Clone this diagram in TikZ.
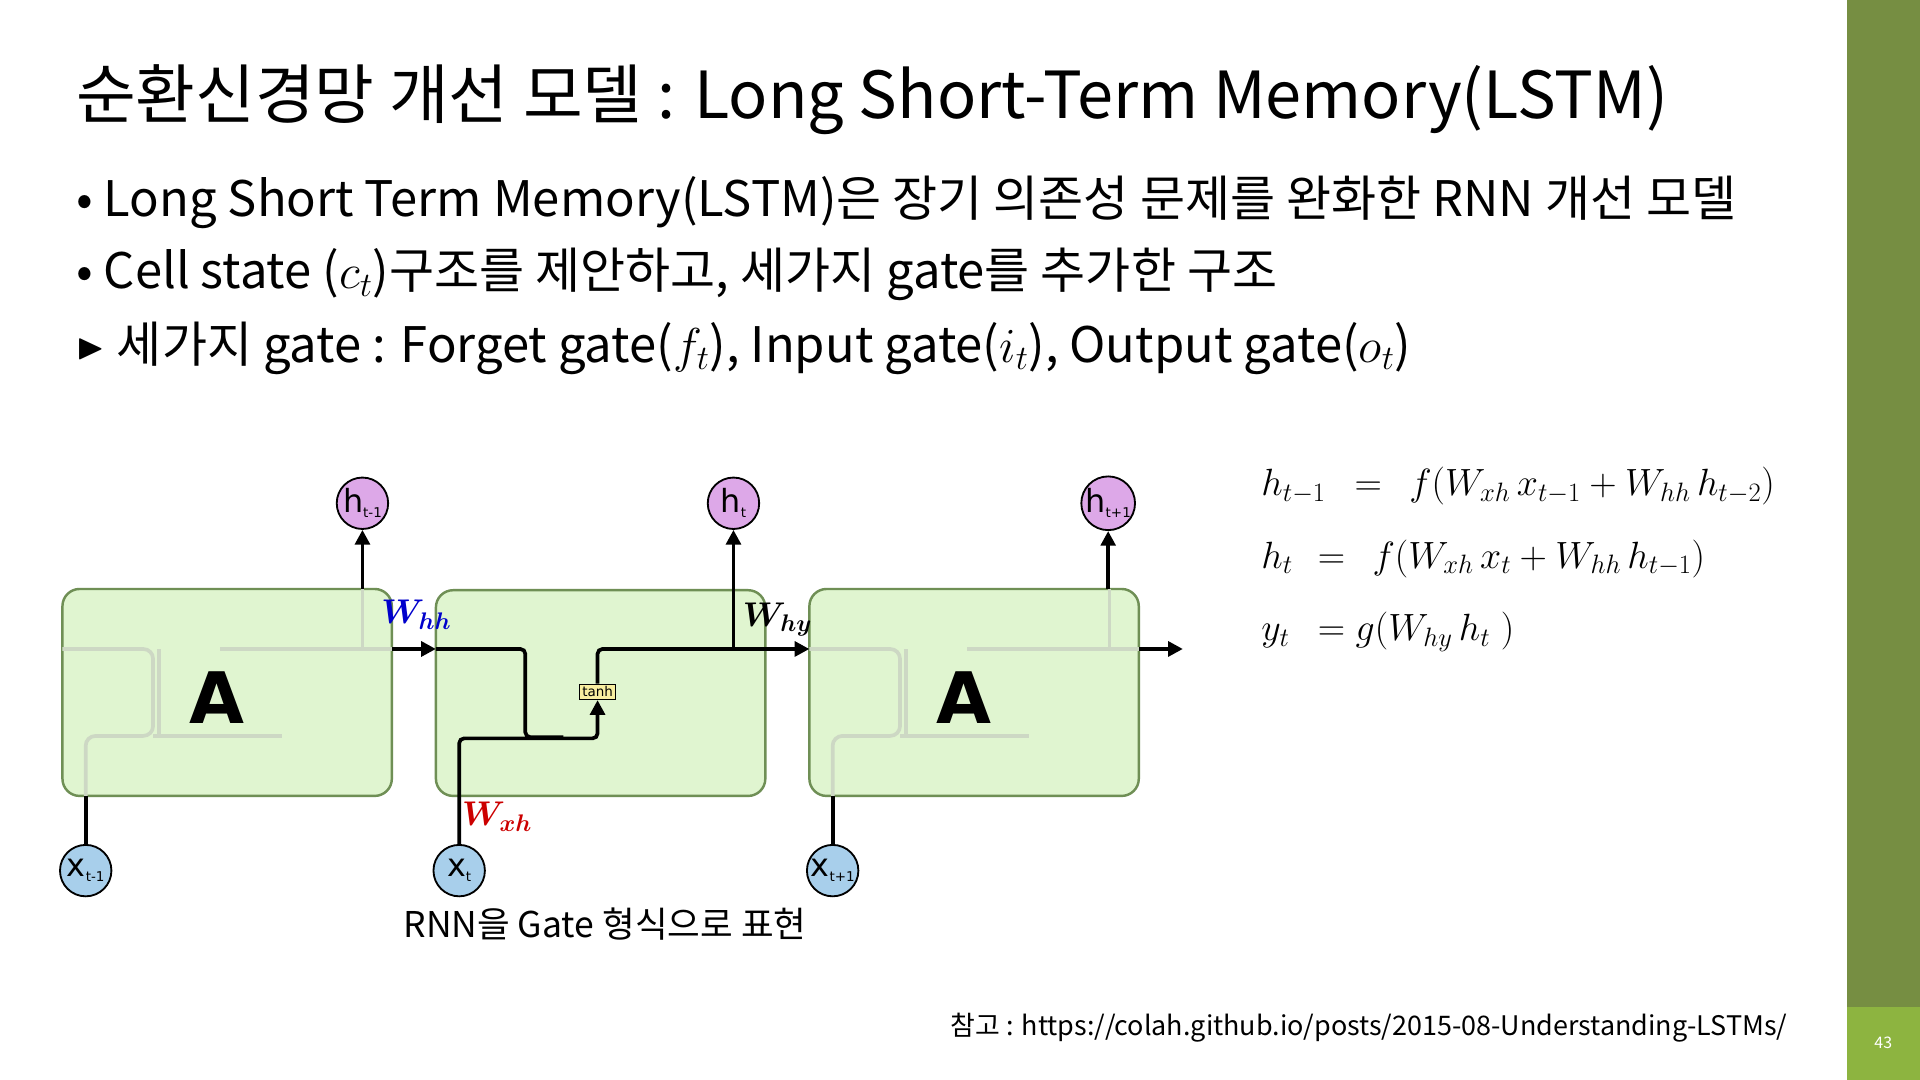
\documentclass[tikz,border=0pt]{standalone}
\usepackage{fix-cm}
\usepackage{amsmath,amssymb}
\usepackage{fontspec}
\setmainfont{Noto Sans CJK KR}
\newfontfamily\dejavu{DejaVu Sans}
\usetikzlibrary{positioning,arrows.meta}

\definecolor{barGreen}{RGB}{118,142,66}
\definecolor{pageGreen}{RGB}{141,180,64}
\definecolor{cellFill}{RGB}{224,245,208}
\definecolor{cellLine}{RGB}{111,143,85}
\definecolor{hFill}{RGB}{221,168,232}
\definecolor{xFill}{RGB}{168,207,235}
\definecolor{tanhFill}{RGB}{248,238,160}

\tikzset{
  cell/.style={draw=cellLine, line width=2pt, fill=cellFill, rounded corners=14pt},
  hnode/.style={circle, draw, line width=1.5pt, fill=hFill, minimum size=42pt, inner sep=0pt, font=\dejavu\fontsize{26}{26}\selectfont},
  xnode/.style={circle, draw, line width=1.5pt, fill=xFill, minimum size=42pt, inner sep=0pt, font=\dejavu\fontsize{26}{26}\selectfont},
  flow/.style={line width=3pt, -{Triangle[length=12pt,width=12pt]}},
  wire/.style={line width=3pt, rounded corners=4pt},
  ghost/.style={cellLine!35, line width=3pt, rounded corners=8pt},
  weight/.style={font=\fontsize{28}{28}\selectfont},
  eqn/.style={font=\fontsize{31}{31}\selectfont, inner sep=0pt},
  bullet/.style={anchor=base west, inner sep=0pt, font=\fontsize{40}{40}\selectfont},
}

\begin{document}
\begin{tikzpicture}[x=1pt, y=-1pt]
  \useasboundingbox (0,0) rectangle (1568,882);
  \fill[white] (0,0) rectangle (1568,882);

  % side bar and page number
  \fill[barGreen] (1508,0) rectangle (1568,882);
  \fill[pageGreen] (1508,822) rectangle (1568,882);
  \node[white, font=\fontsize{13}{13}\selectfont] (page) at (1538,852) {43};

  % title and bullets
  \node[anchor=base west, inner sep=0pt, font=\fontsize{53}{53}\selectfont] (title) at (62,97)
    {순환신경망 개선 모델 : Long Short-Term Memory(LSTM)};
  \node[bullet] (b1) at (62,177) {• Long Short Term Memory(LSTM)은 장기 의존성 문제를 완화한 RNN 개선 모델};
  \node[bullet] (b2) at (62,236) {• Cell state ($c_t$)구조를 제안하고, 세가지 gate를 추가한 구조};
  \node[bullet] (b3) at (62,296) {\raisebox{3pt}{\fontsize{30}{30}\selectfont$\blacktriangleright$}\hspace{10pt}세가지 gate : Forget gate($f_t$), Input gate($i_t$), Output gate($o_t$)};

  % cells
  \draw[cell] (51,481) rectangle (320,650);
  \draw[cell] (356,482) rectangle (625,650);
  \draw[cell] (661,481) rectangle (930,650);

  % faint inner wires of the outer cells
  \foreach \dx in {0,610} {
    \draw[ghost] (51+\dx,530) -- (125+\dx,530) -- (125+\dx,601) -- (70+\dx,601) -- (70+\dx,650);
    \draw[ghost] (125+\dx,601) -- (230+\dx,601);
    \draw[ghost] (130+\dx,601) -- (130+\dx,530);
    \draw[ghost] (180+\dx,530) -- (320+\dx,530);
    \draw[ghost] (296+\dx,530) -- (296+\dx,481);
  }

  \node[font=\dejavu\bfseries\fontsize{58}{58}\selectfont] (A1) at (177,570) {A};
  \node[font=\dejavu\bfseries\fontsize{58}{58}\selectfont] (A3) at (787,570) {A};

  % outputs and inputs
  \node[hnode] (h1) at (296,411) {h\raisebox{-4pt}{\fontsize{11}{11}\selectfont t-1}};
  \node[hnode] (h2) at (599,411) {h\raisebox{-4pt}{\fontsize{11}{11}\selectfont t}};
  \node[hnode] (h3) at (905,411) {h\raisebox{-4pt}{\fontsize{11}{11}\selectfont t+1}};
  \node[xnode] (x1) at (70,711) {x\raisebox{-4pt}{\fontsize{11}{11}\selectfont t-1}};
  \node[xnode] (x2) at (375,711) {x\raisebox{-4pt}{\fontsize{11}{11}\selectfont t}};
  \node[xnode] (x3) at (680,711) {x\raisebox{-4pt}{\fontsize{11}{11}\selectfont t+1}};

  \coordinate (c1top) at (296,481);
  \coordinate (c3top) at (905,481);
  \coordinate (c1bot) at (70,650);
  \coordinate (c3bot) at (680,650);
  \coordinate (c1out) at (320,530);
  \coordinate (c2in) at (356,530);
  \coordinate (c2out) at (625,530);
  \coordinate (c3in) at (661,530);
  \coordinate (c3out) at (930,530);
  \coordinate (far) at (966,530);

  \draw[flow] (c1top) -- (h1);
  \draw[flow] (c3top) -- (h3);
  \draw[line width=3pt] (x1) -- (c1bot);
  \draw[line width=3pt] (x3) -- (c3bot);
  \draw[flow] (c1out) -- (c2in);
  \draw[flow] (c2out) -- (c3in);
  \draw[flow] (c3out) -- (far);

  % middle cell
  \node[draw, line width=1pt, fill=tanhFill, inner sep=2pt, font=\dejavu\fontsize{11}{11}\selectfont] (tanh) at (488,565) {tanh};
  \draw[wire] (c2in) -- (429,530) -- (429,602) -- (460,602);
  \draw[wire, -{Triangle[length=12pt,width=12pt]}] (x2) -- (375,603) -- (488,603) -- (tanh.south);
  \draw[wire] (tanh.north) -- (488,530) -- (c2out);
  \draw[flow] (599,530) -- (h2);

  % weights
  \node[weight, text=blue!80!black] (whh) at (340,502) {$\boldsymbol{W_{hh}}$};
  \node[weight] (why) at (635,506) {$\boldsymbol{W_{hy}}$};
  \node[weight, text=red!80!black] (wxh) at (406,667) {$\boldsymbol{W_{xh}}$};

  \node[font=\fontsize{29}{29}\selectfont] (caption) at (494,755) {RNN을 Gate 형식으로 표현};

  % equations
  \node[eqn, anchor=base west] (e1l) at (1030,405) {$h_{t-1}$};
  \node[eqn, anchor=base west] (e1r) at (1106,405) {$=\;\,f(W_{xh}\,x_{t-1}+W_{hh}\,h_{t-2})$};
  \node[eqn, anchor=base west] (e2l) at (1030,464) {$h_t$};
  \node[eqn, anchor=base west] (e2r) at (1076,464) {$=\;\,f(W_{xh}\,x_{t}+W_{hh}\,h_{t-1})$};
  \node[eqn, anchor=base west] (e3l) at (1030,523) {$y_t$};
  \node[eqn, anchor=base west] (e3r) at (1076,523) {$=g(W_{hy}\,h_t\;)$};

  \node[anchor=base east, inner sep=0pt, font=\fontsize{22}{22}\selectfont] (ref) at (1460,846)
    {참고 : https://colah.github.io/posts/2015-08-Understanding-LSTMs/};
\end{tikzpicture}
\end{document}
